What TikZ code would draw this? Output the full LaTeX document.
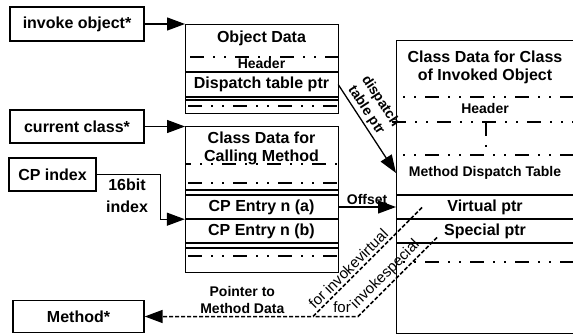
\documentclass[tikz,border=0pt]{standalone}
\usepackage{fontspec}
\setmainfont{Liberation Sans}
\usetikzlibrary{arrows.meta, calc}
\newcommand{\bigbf}{\fontsize{16}{18}\selectfont\bfseries}
\newcommand{\midbf}{\fontsize{14}{17}\selectfont\bfseries}
\newcommand{\slim}{\fontsize{15}{17}\selectfont}
\tikzset{
  ptrbox/.style={draw, line width=1.4pt, inner sep=0pt, font=\bigbf},
  tbl/.style={draw, line width=1.4pt, inner sep=0pt},
  ttl/.style={inner sep=0pt, align=center, font=\bigbf},
  hdr/.style={inner sep=0pt, font=\midbf},
  rowtxt/.style={inner sep=0pt, minimum height=24pt, font=\bigbf},
  lbl/.style={inner sep=2pt, font=\midbf},
  diag/.style={rotate=45, anchor=south, inner sep=2.5pt, font=\slim},
  sep/.style={line width=1.1pt},
  ddot/.style={line width=1.6pt,
               dash pattern=on 14pt off 9pt on 2pt off 9pt on 2pt off 9pt},
  arr/.style={-{Triangle[length=18pt, width=13pt]}, line width=1.3pt},
  ptr/.style={line width=1.5pt, dash pattern=on 4pt off 2pt},
}

\begin{document}
\begin{tikzpicture}[x=1pt, y=-1pt]
\useasboundingbox (0,0) rectangle (573,334);
\clip (0,0) rectangle (573,334);

% pointers held by the caller
\node[ptrbox, minimum width=134, minimum height=34] (invobj) at (77,24) {invoke object*};
\node[ptrbox, minimum width=134, minimum height=33] (curcls) at (77,126.5) {current class*};
\node[ptrbox, minimum width=87, minimum height=33] (cpidx) at (52.5,174.5) {CP index};
\node[ptrbox, minimum width=131, minimum height=32] (meth) at (78.5,316.5) {Method*};

% object data
\node[tbl, minimum width=153, minimum height=89, anchor=north west] (objdata) at (185,24) {};
\node[ttl] (objttl) at (261.5,38) {Object Data};
\node[hdr] (objhdr) at (261.5,63) {Header};
\node[rowtxt, minimum width=153, minimum height=25] (dtp) at (261.5,84.5) {Dispatch table ptr};
\draw[ddot, dash phase=-5pt] (185,57) -- (338,57);
\foreach \y in {72,97,100}
  \draw[sep] (185,\y) -- (338,\y);
\draw[ddot, dash phase=-3pt] (185,106) -- (338,106);

% class data of the calling method
\node[tbl, minimum width=153, minimum height=146, anchor=north west] (callcls) at (185,126) {};
\node[ttl] (callttl) at (261.5,148.5) {Class Data for\\Calling Method};
\draw[ddot, dash phase=8pt] (185,164) -- (338,164);
\draw[ddot, dash phase=-3pt] (185,183) -- (338,183);
\foreach \y in {190,195,219,243,248}
  \draw[sep] (185,\y) -- (338,\y);
\node[rowtxt, minimum width=153] (cpa) at (261.5,207) {CP Entry n (a)};
\node[rowtxt, minimum width=153] (cpb) at (261.5,231) {CP Entry n (b)};
\draw[ddot, dash phase=-3pt] (185,256) -- (338,256);

% class data of the invoked object
\node[tbl, minimum width=180, minimum height=293, anchor=north west] (invcls) at (396,40) {};
\node[ttl] (invttl) at (485,67) {Class Data for Class\\of Invoked Object};
\draw[ddot, dash phase=16pt] (396,97) -- (573,97);
\node[hdr] (invhdr) at (485,108) {Header};
\draw[ddot] (392,122) -- (573,122);
\draw[ddot, dash phase=16pt] (396,155) -- (573,155);
\draw[ddot, line width=1.2pt] (486,122) -- (486,155);
\node[hdr] (mdt) at (485,173) {Method Dispatch Table};
\foreach \y in {195,219,243}
  \draw[sep] (396,\y) -- (573,\y);
\node[rowtxt, minimum width=177] (vptr) at (485,207) {Virtual ptr};
\node[rowtxt, minimum width=177] (sptr) at (485,231) {Special ptr};
\draw[ddot, dash phase=16pt] (396,262) -- (573,262);

% connectors
\draw[arr] (invobj.east) -- (objdata.west |- invobj.east);
\draw[arr] (curcls.east) -- (callcls.west |- curcls.east);
\draw[arr] (cpidx.east) -- ++(64,0) |- (cpa.south west);
\node[ttl, font=\bigbf] (bitlbl) at (127,196) {16bit\\[4pt]index};
\draw[arr] (cpa.east) -- (invcls.west |- cpa.east)
  node[midway, above, lbl] {Offset};
\draw[arr] (dtp.east) -- (invcls.west |- mdt)
  node[pos=0.35, sloped, above, lbl, align=center] {dispatch\\table ptr};

\coordinate (vend) at (422,207.5);
\coordinate (vbend) at (313,316.5);
\coordinate (send) at (437,237.5);
\coordinate (sbend) at (358,316.5);
\draw[ptr, -{Triangle[length=18pt, width=13pt]}] (vend) -- (vbend)
  node[pos=0.62, diag] {for invokevirtual}
  -- (meth.east)
  node[pos=0.42, above, lbl, align=center] {Pointer to\\Method Data};
\draw[ptr] (send) -- (sbend)
  node[pos=0.56, diag] {invokespecial}
  -- (vbend);
\node[inner sep=0pt, font=\slim] (forlbl) at (342,307) {for};

\end{tikzpicture}
\end{document}
